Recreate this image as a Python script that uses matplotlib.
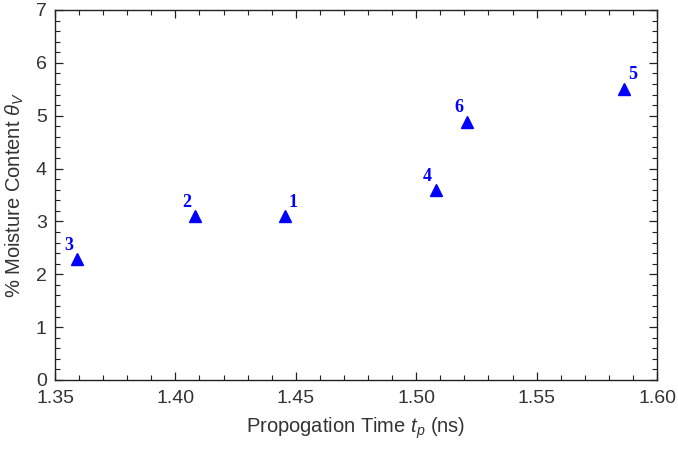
import matplotlib
matplotlib.use("Agg")
import matplotlib.pyplot as plt
from matplotlib.ticker import MultipleLocator

plt.rcParams['font.family'] = ['Liberation Sans', 'DejaVu Sans']
plt.rcParams['mathtext.fontset'] = 'custom'
plt.rcParams['mathtext.rm'] = 'Liberation Sans'
plt.rcParams['mathtext.it'] = 'Liberation Sans:italic'

# Data
prop_time = [1.4455, 1.4081, 1.3593, 1.5082, 1.5864, 1.5212]
moisture = [3.10, 3.10, 2.28, 3.59, 5.51, 4.89]
point_labels = ['1', '2', '3', '4', '5', '6']
label_side = ['right', 'left', 'left', 'left', 'right', 'left']

fig = plt.figure(figsize=(6.78, 4.5), dpi=100)
ax = fig.add_axes([55/678, 70/450, (657-55)/678, (380-10)/450])

ax.plot(prop_time, moisture, linestyle='none', marker='^', markersize=9,
        color='#0000FF', markeredgecolor='#0000FF')

for x, y, lab, side in zip(prop_time, moisture, point_labels, label_side):
    dx = 6 if side == 'right' else -6
    ax.annotate(lab, (x, y), xytext=(dx, 10), textcoords='offset points',
                ha='center', va='center', color='#0000FF', fontsize=13,
                fontweight='bold', family='Liberation Serif')

ax.set_xlim(1.35, 1.60)
ax.set_ylim(0, 7)
ax.xaxis.set_major_locator(MultipleLocator(0.05))
ax.xaxis.set_minor_locator(MultipleLocator(0.01))
ax.yaxis.set_major_locator(MultipleLocator(1))
ax.yaxis.set_minor_locator(MultipleLocator(0.2))
ax.xaxis.set_major_formatter(matplotlib.ticker.FormatStrFormatter('%.2f'))

ax.tick_params(which='both', direction='in', top=True, right=True,
               labelsize=14, labelcolor='#333333', color='#222222')
ax.tick_params(which='major', length=6, width=0.9)
ax.tick_params(which='minor', length=3.5, width=0.8)
ax.tick_params(axis='x', pad=7.5)
ax.tick_params(axis='y', pad=6)
for sp in ax.spines.values():
    sp.set_color('#222222')
    sp.set_linewidth(1.0)

ax.set_xlabel(r'Propogation Time $t_p$ (ns)', fontsize=14.5, color='#333333',
              labelpad=6)
ax.set_ylabel(r'% Moisture Content $\theta_V$', fontsize=14.5, color='#333333',
              labelpad=7)

fig.savefig('out.png', dpi=100)
